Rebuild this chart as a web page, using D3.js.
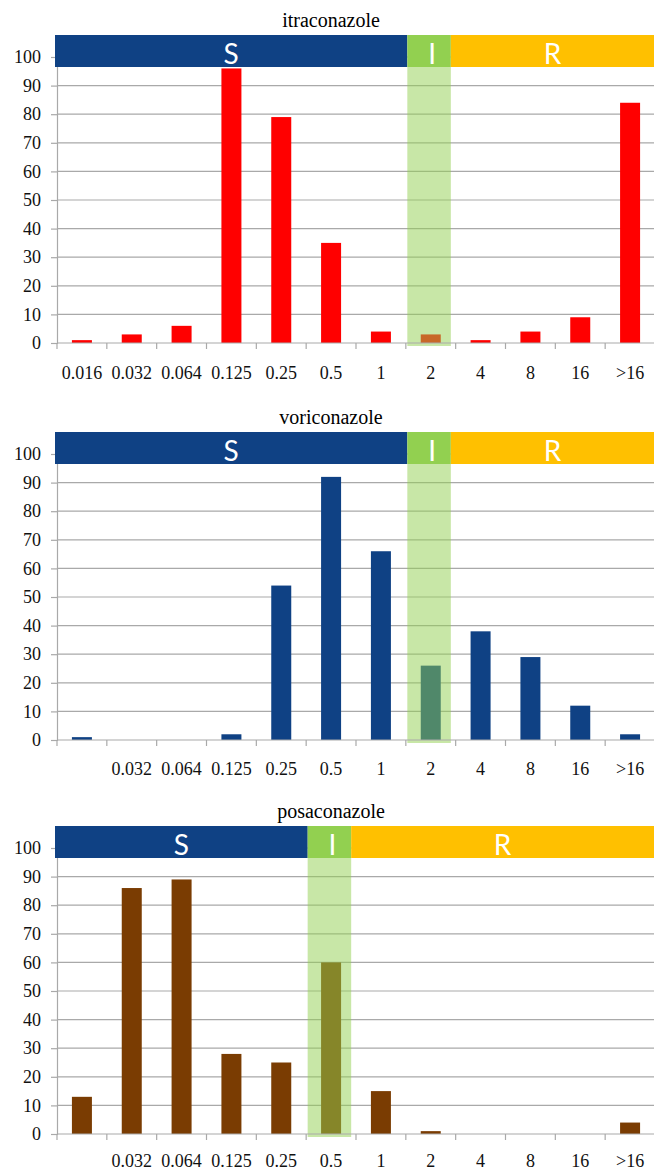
<!DOCTYPE html>
<html>
<head>
<meta charset="utf-8">
<script src="https://cdn.jsdelivr.net/npm/d3@7/dist/d3.min.js"></script>
<style>
  html, body { margin: 0; padding: 0; background: #fff; }
  svg { display: block; }
  .serif { font-family: "Liberation Serif", "DejaVu Serif", "Times New Roman", serif; }
  .sans { font-family: Lato, "Open Sans", sans-serif; }
</style>
</head>
<body>
<svg id="chart" width="654" height="1171"></svg>
<script>
// MIC categories (mg/L)
const categories = ["0.016", "0.032", "0.064", "0.125", "0.25", "0.5", "1", "2", "4", "8", "16", ">16"];

// Number of isolates per MIC value
const itraconazoleValues = [1, 3, 6, 96, 79, 35, 4, 3, 1, 4, 9, 84];
const voriconazoleValues = [1, 0, 0, 2, 54, 92, 66, 26, 38, 29, 12, 2];
const posaconazoleValues = [13, 86, 89, 28, 25, 60, 15, 1, 0, 0, 0, 4];

// Tick labels shown under each panel
const itraconazoleLabels = ["0.016", "0.032", "0.064", "0.125", "0.25", "0.5", "1", "2", "4", "8", "16", ">16"];
const voriconazoleLabels = ["", "0.032", "0.064", "0.125", "0.25", "0.5", "1", "2", "4", "8", "16", ">16"];
const posaconazoleLabels = ["", "0.032", "0.064", "0.125", "0.25", "0.5", "1", "2", "4", "8", "16", ">16"];

const yTicks = [0, 10, 20, 30, 40, 50, 60, 70, 80, 90, 100];

// Intermediate breakpoint category of each drug
const itraconazoleI = "2";
const voriconazoleI = "2";
const posaconazoleI = "0.5";

const panels = [
  { title: "itraconazole", values: itraconazoleValues, labels: itraconazoleLabels, iCat: itraconazoleI, color: "#ff0000", top: 0, labelY: 36 },
  { title: "voriconazole", values: voriconazoleValues, labels: voriconazoleLabels, iCat: voriconazoleI, color: "#0f4184", top: 397, labelY: 35 },
  { title: "posaconazole", values: posaconazoleValues, labels: posaconazoleLabels, iCat: posaconazoleI, color: "#7a3c02", top: 791, labelY: 33 }
];

const colS = "#0f4184", colI = "#92d050", colR = "#ffc000";
const gridColor = "#a9a9a9";

const svg = d3.select("#chart");

const x = d3.scaleBand().domain(categories).range([57, 655]).paddingInner(0).paddingOuter(0);
const barW = 20;

panels.forEach(p => {
  const g = svg.append("g").attr("transform", `translate(0,${p.top})`);
  const y = d3.scaleLinear().domain([0, 100]).range([343, 57]);

  // title
  g.append("text")
    .attr("class", "serif")
    .attr("x", 331).attr("y", 27)
    .attr("text-anchor", "middle")
    .attr("font-size", 20)
    .attr("fill", "#000")
    .text(p.title);

  // horizontal gridlines
  g.append("g").selectAll("line")
    .data(yTicks.filter(t => t > 0))
    .join("line")
    .attr("x1", 57).attr("x2", 654)
    .attr("y1", d => y(d)).attr("y2", d => y(d))
    .attr("stroke", gridColor).attr("stroke-width", 1.2);

  // bars
  g.append("g").selectAll("rect")
    .data(categories.map((c, i) => ({ c, v: p.values[i] })))
    .join("rect")
    .attr("x", d => x(d.c) + (x.bandwidth() - barW) / 2)
    .attr("width", barW)
    .attr("y", d => y(d.v))
    .attr("height", d => y(0) - y(d.v))
    .attr("fill", p.color);

  // intermediate column shading
  const ix = x(p.iCat) + 1.5;
  const iw = 43.5;
  g.append("rect")
    .attr("x", ix).attr("width", iw)
    .attr("y", 67).attr("height", y(0) + 3 - 67)
    .attr("fill", colI).attr("opacity", 0.5);

  // y axis
  const yAxis = d3.axisLeft(y).tickValues(yTicks).tickSize(6).tickPadding(10);
  const ya = g.append("g").attr("transform", "translate(57,0)").call(yAxis)
    .attr("font-family", null).attr("font-size", null);
  ya.select(".domain").attr("stroke", gridColor).attr("stroke-width", 1.2);
  ya.selectAll(".tick line").attr("stroke", gridColor).attr("stroke-width", 1.2);
  ya.selectAll(".tick text")
    .attr("class", "serif").attr("font-size", 18).attr("fill", "#111");

  // x axis baseline and category boundary ticks
  const xa = g.append("g").attr("transform", `translate(0,${y(0)})`);
  xa.append("line").attr("x1", 57).attr("x2", 654).attr("y1", 0).attr("y2", 0)
    .attr("stroke", gridColor).attr("stroke-width", 1.2);
  xa.selectAll("line.bt")
    .data(categories)
    .join("line").attr("class", "bt")
    .attr("x1", d => x(d)).attr("x2", d => x(d))
    .attr("y1", 0).attr("y2", 6)
    .attr("stroke", gridColor).attr("stroke-width", 1.2);
  const xAxis = d3.axisBottom(x).tickSize(0).tickPadding(0)
    .tickFormat((d, i) => p.labels[i]);
  const xl = g.append("g").attr("transform", `translate(0,${y(0)})`).call(xAxis)
    .attr("font-family", null).attr("font-size", null);
  xl.select(".domain").remove();
  xl.selectAll(".tick text")
    .attr("dy", null).attr("y", p.labelY)
    .attr("class", "serif").attr("font-size", 18).attr("fill", "#111");

  // S / I / R band
  const bandTop = 35, bandH = 32;
  const sEnd = ix, iEnd = ix + iw;
  const bands = [
    { name: "S", x0: 55, x1: sEnd, fill: colS },
    { name: "I", x0: sEnd, x1: iEnd, fill: colI },
    { name: "R", x0: iEnd, x1: 654, fill: colR }
  ];
  const bg = g.append("g");
  bg.selectAll("rect").data(bands).join("rect")
    .attr("x", d => d.x0).attr("width", d => d.x1 - d.x0)
    .attr("y", bandTop).attr("height", bandH)
    .attr("fill", d => d.fill);
  bg.selectAll("text").data(bands).join("text")
    .attr("class", "sans")
    .attr("x", d => (d.x0 + d.x1) / 2 + (d.name === "I" ? 3 : 0))
    .attr("y", bandTop + bandH - 3.5)
    .attr("text-anchor", "middle")
    .attr("font-size", 28)
    .attr("fill", "#fff")
    .text(d => d.name);
});
</script>
</body>
</html>
